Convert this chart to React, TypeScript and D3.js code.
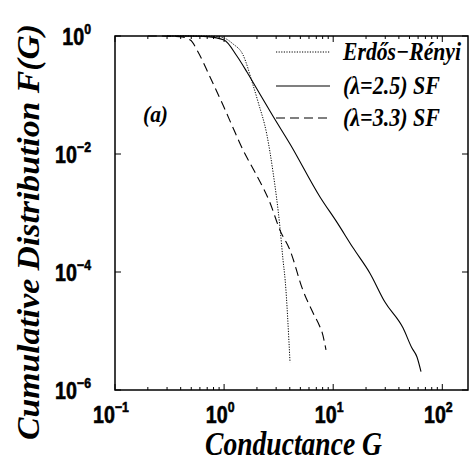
import React from "react";
import * as d3 from "d3";

// ---- data ----
const gER = [0.3, 0.6, 0.8, 1.0, 1.2, 1.49, 1.84, 2.05, 2.47, 2.81, 3.25, 3.47, 3.63, 4.02];
const fER = [1, 0.999, 0.99, 0.925, 0.74, 0.479, 0.148, 0.0759, 0.0209, 0.0049, 5.75e-4, 1.58e-4, 7.2e-5, 2.95e-6];

const gSF25 = [0.3, 0.5, 0.7, 1.0, 1.31, 1.62, 2.0, 2.8, 4.02, 7.57, 10.8, 15.2, 21.7, 29.8, 43.7, 52.7, 58.6, 63.8];
const fSF25 = [1, 0.998, 0.977, 0.855, 0.458, 0.245, 0.126, 0.044, 0.0148, 1.87e-3, 7.0e-4, 2.57e-4, 9.55e-5, 3.09e-5, 1.12e-5, 5.13e-6, 3.63e-6, 2.04e-6];

const gSF33 = [0.2, 0.3, 0.39, 0.49, 0.577, 0.743, 0.977, 1.21, 1.49, 1.92, 2.64, 3.25, 4.02, 5.28, 6.53, 7.57, 7.9, 8.59];
const fSF33 = [1, 0.995, 0.977, 0.855, 0.537, 0.202, 0.0676, 0.0275, 0.0117, 4.9e-3, 1.48e-3, 5.13e-4, 2.34e-4, 4.9e-5, 2.04e-5, 1.17e-5, 9.55e-6, 4.79e-6];

const xDomain = [0.1, 172];
const yDomain = [1e-6, 1];
const xMajorExps = [-1, 0, 1, 2];
const yMajorExps = [0, -2, -4, -6];
const legendLabels = ["Erdős−Rényi", "(λ=2.5) SF", "(λ=3.3) SF"];
const xTitle = "Conductance G";
const yTitle = "Cumulative Distribution F(G)";
const panelLabel = "(a)";

const zip = (a: number[], b: number[]) => a.map((v, i) => [v, b[i]] as [number, number]);

export default function App() {
  const W = 470, H = 463;
  const L = 115, R = 468, T = 36, B = 390;
  const x = d3.scaleLog().domain(xDomain).range([L, R]);
  const y = d3.scaleLog().domain(yDomain).range([B, T]);
  const line = d3
    .line<[number, number]>()
    .x((d) => x(d[0]))
    .y((d) => y(d[1]))
    .curve(d3.curveMonotoneX);

  const xTicks: { v: number; major: boolean }[] = [];
  for (let e = -1; e <= 2; e++) {
    for (let k = 1; k <= 9; k++) {
      const v = k * Math.pow(10, e);
      if (v >= xDomain[0] && v <= xDomain[1]) xTicks.push({ v, major: k === 1 });
    }
  }

  const tickFont = "'Liberation Sans', Arial, Helvetica, sans-serif";
  const serif = "'Liberation Serif', 'Times New Roman', Times, serif";
  const sx = 0.82;

  const expLabel = (e: number) => (e < 0 ? "−" + Math.abs(e) : String(e));

  const series = [
    { data: zip(gER, fER), dash: "1.2,1.4", width: 1 },
    { data: zip(gSF25, fSF25), dash: undefined, width: 1.1 },
    { data: zip(gSF33, fSF33), dash: "9,5", width: 1.1 },
  ];
  const legendY = [52, 86, 118];
  const legendW = [118, 97, 97];

  return (
    <svg
      width={W}
      height={H}
      style={{ position: "absolute", left: 0, top: 0, background: "#fff" }}
    >
      <rect x={0} y={0} width={W} height={H} fill="#fff" />
      {/* curves */}
      {series.map((s, i) => (
        <path
          key={i}
          d={line(s.data) || ""}
          fill="none"
          stroke="#000"
          strokeWidth={s.width}
          strokeDasharray={s.dash}
        />
      ))}
      {/* frame */}
      <rect x={L} y={T} width={R - L} height={B - T} fill="none" stroke="#000" strokeWidth={1.5} />
      {/* x ticks bottom & top */}
      {xTicks.map((t, i) => {
        const px = x(t.v);
        const len = t.major ? 6 : 3;
        return (
          <g key={i}>
            <line x1={px} x2={px} y1={B} y2={B - len} stroke="#000" strokeWidth={1} />
            <line x1={px} x2={px} y1={T} y2={T + len} stroke="#000" strokeWidth={1} />
          </g>
        );
      })}
      {/* y ticks */}
      {yMajorExps.map((e) => {
        const py = y(Math.pow(10, e));
        return (
          <g key={e}>
            <line x1={L} x2={L + 6} y1={py} y2={py} stroke="#000" strokeWidth={1} />
            <line x1={R} x2={R - 6} y1={py} y2={py} stroke="#000" strokeWidth={1} />
          </g>
        );
      })}
      {/* x tick labels */}
      {xMajorExps.map((e) => {
        const px = x(Math.pow(10, e)) - 4;
        return (
          <g key={e} transform={`translate(${px},423) scale(${sx},1)`}>
            <text x={0} y={0} textAnchor="middle" fontFamily={tickFont} fontWeight="bold" fontSize={24} fill="#000" stroke="#000" strokeWidth={0.6}>
              <tspan>10</tspan>
              <tspan dy={-11} fontSize={15}>{expLabel(e)}</tspan>
            </text>
          </g>
        );
      })}
      {/* y tick labels */}
      {yMajorExps.map((e) => {
        const py = y(Math.pow(10, e)) + 9;
        return (
          <g key={e} transform={`translate(91,${py}) scale(${sx},1)`}>
            <text x={0} y={0} textAnchor="end" fontFamily={tickFont} fontWeight="bold" fontSize={24} fill="#000" stroke="#000" strokeWidth={0.6}>
              <tspan>10</tspan>
              <tspan dy={-11} fontSize={15}>{expLabel(e)}</tspan>
            </text>
          </g>
        );
      })}
      {/* axis titles */}
      <text
        x={205}
        y={455}
        fontFamily={serif}
        fontWeight="bold"
        fontStyle="italic"
        fontSize={33}
        textLength={177}
        lengthAdjust="spacingAndGlyphs"
        fill="#000"
      >
        {xTitle}
      </text>
      <text
        transform="translate(39,440) rotate(-90)"
        x={0}
        y={0}
        fontFamily={serif}
        fontWeight="bold"
        fontStyle="italic"
        fontSize={31}
        textLength={416}
        lengthAdjust="spacingAndGlyphs"
        fill="#000"
      >
        {yTitle}
      </text>
      {/* panel label */}
      <text
        x={143}
        y={122}
        fontFamily={serif}
        fontWeight="bold"
        fontStyle="italic"
        fontSize={24}
        textLength={25}
        lengthAdjust="spacingAndGlyphs"
        fill="#000"
      >
        {panelLabel}
      </text>
      {/* legend */}
      {series.map((s, i) => (
        <g key={i}>
          <line
            x1={276}
            x2={330}
            y1={legendY[i]}
            y2={legendY[i]}
            stroke="#000"
            strokeWidth={s.width}
            strokeDasharray={s.dash}
          />
          <text
            x={343}
            y={legendY[i] + 8}
            fontFamily={serif}
            fontWeight="bold"
            fontStyle="italic"
            fontSize={25}
            textLength={legendW[i]}
            lengthAdjust="spacingAndGlyphs"
            fill="#000"
          >
            {legendLabels[i]}
          </text>
        </g>
      ))}
    </svg>
  );
}
